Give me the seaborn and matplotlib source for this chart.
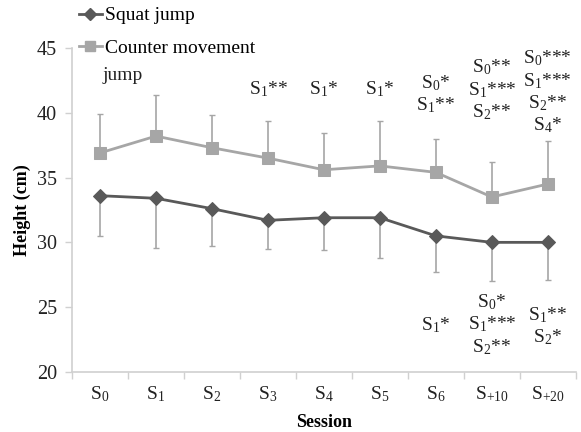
import numpy as np
import pandas as pd
import matplotlib
matplotlib.use('Agg')
import matplotlib.pyplot as plt
from matplotlib.lines import Line2D
import seaborn as sns

sessions = ['S$_0$', 'S$_1$', 'S$_2$', 'S$_3$', 'S$_4$', 'S$_5$', 'S$_6$', 'S$_{+10}$', 'S$_{+20}$']
sj_mean = [33.6, 33.4, 32.6, 31.7, 31.9, 31.9, 30.5, 30.0, 30.0]
sj_sd = [3.1, 3.8, 2.9, 2.2, 2.5, 3.1, 2.8, 3.0, 2.9]
cmj_mean = [36.9, 38.2, 37.3, 36.5, 35.6, 35.9, 35.4, 33.5, 34.5]
cmj_sd = [3.0, 3.2, 2.5, 2.9, 2.8, 3.5, 2.6, 2.7, 3.3]

# significance labels (above CMJ, below SJ)
cmj_sig = {3: ['S$_1$**'], 4: ['S$_1$*'], 5: ['S$_1$*'],
           6: ['S$_0$*', 'S$_1$**'],
           7: ['S$_0$**', 'S$_1$***', 'S$_2$**'],
           8: ['S$_0$***', 'S$_1$***', 'S$_2$**', 'S$_4$*']}
sj_sig = {6: ['S$_1$*'],
          7: ['S$_0$*', 'S$_1$***', 'S$_2$**'],
          8: ['S$_1$**', 'S$_2$*']}
# y of first line for each annotation block (data units)
cmj_sig_top = {3: 41.85, 4: 41.85, 5: 41.85, 6: 42.3, 7: 43.5, 8: 44.2}
sj_sig_top = {6: 23.6, 7: 25.4, 8: 24.4}
step = 1.73

plt.rcParams['font.family'] = ['Liberation Serif', 'DejaVu Serif']
plt.rcParams['mathtext.fontset'] = 'custom'
plt.rcParams['mathtext.rm'] = 'Liberation Serif'
plt.rcParams['mathtext.it'] = 'Liberation Serif'
plt.rcParams['mathtext.default'] = 'regular'

sj_col = '#595959'
cmj_col = '#a6a6a6'
err_col = '#a6a6a6'
axis_col = '#d0d0d0'
txt_col = '#222222'

x = np.arange(len(sessions))
df_sj = pd.DataFrame({'x': x, 'h': sj_mean})
df_cmj = pd.DataFrame({'x': x, 'h': cmj_mean})

fig = plt.figure(figsize=(5.81, 4.32), dpi=100)
ax = fig.add_axes([0.124, 0.139, 0.867, 0.750])

ax.errorbar(x, cmj_mean, yerr=[np.zeros(len(x)), cmj_sd], fmt='none',
            ecolor=err_col, elinewidth=1.2, capsize=2.5, capthick=1, zorder=1)
ax.errorbar(x, sj_mean, yerr=[sj_sd, np.zeros(len(x))], fmt='none',
            ecolor=err_col, elinewidth=1.2, capsize=2.5, capthick=1, zorder=1)

sns.lineplot(data=df_cmj, x='x', y='h', ax=ax, color=cmj_col, marker='s',
             markersize=9, markeredgecolor=cmj_col, linewidth=2, zorder=3)
sns.lineplot(data=df_sj, x='x', y='h', ax=ax, color=sj_col, marker='D',
             markersize=7, markeredgecolor=sj_col, linewidth=2, zorder=3)

for i, lines in cmj_sig.items():
    for k, s in enumerate(lines):
        ax.text(i, cmj_sig_top[i] - k * step, s, ha='center', va='center',
                fontsize=14, color=txt_col)
for i, lines in sj_sig.items():
    for k, s in enumerate(lines):
        ax.text(i, sj_sig_top[i] - k * step, s, ha='center', va='center',
                fontsize=14, color=txt_col)

ax.set_xlim(-0.5, len(x) - 0.5)
ax.set_ylim(20, 45)
ax.set_yticks(np.arange(20, 46, 5))
ax.set_xticks(x)
ax.set_xticklabels(sessions)
ax.set_xticks(np.arange(-0.5, len(x), 1), minor=True)
ax.tick_params(axis='x', which='major', length=0, pad=9, labelsize=14, labelcolor=txt_col)
ax.tick_params(axis='x', which='minor', length=5, color=axis_col, width=1)
ax.tick_params(axis='y', length=5, color=axis_col, width=1, labelsize=14.5,
               labelcolor=txt_col, pad=6)
for side in ['top', 'right']:
    ax.spines[side].set_visible(False)
for side in ['left', 'bottom']:
    ax.spines[side].set_color(axis_col)
    ax.spines[side].set_linewidth(1.2)

ax.set_xlabel('Session', fontsize=13, fontweight='bold', labelpad=7)
ax.set_ylabel('Height (cm)', fontsize=13, fontweight='bold', labelpad=4)

handles = [Line2D([], [], color=sj_col, marker='D', markersize=6, lw=2),
           Line2D([], [], color=cmj_col, marker='s', markersize=7, lw=2)]
fig.legend(handles, ['Squat jump', 'Counter movement'], loc='upper left',
           bbox_to_anchor=(0.105, 1.025), frameon=False, fontsize=14,
           handlelength=1.2, handletextpad=0.15, labelspacing=0.75)
fig.text(0.177, 0.826, 'jump', fontsize=14, va='center', ha='left', color=txt_col)

fig.savefig('out.png', dpi=100)
